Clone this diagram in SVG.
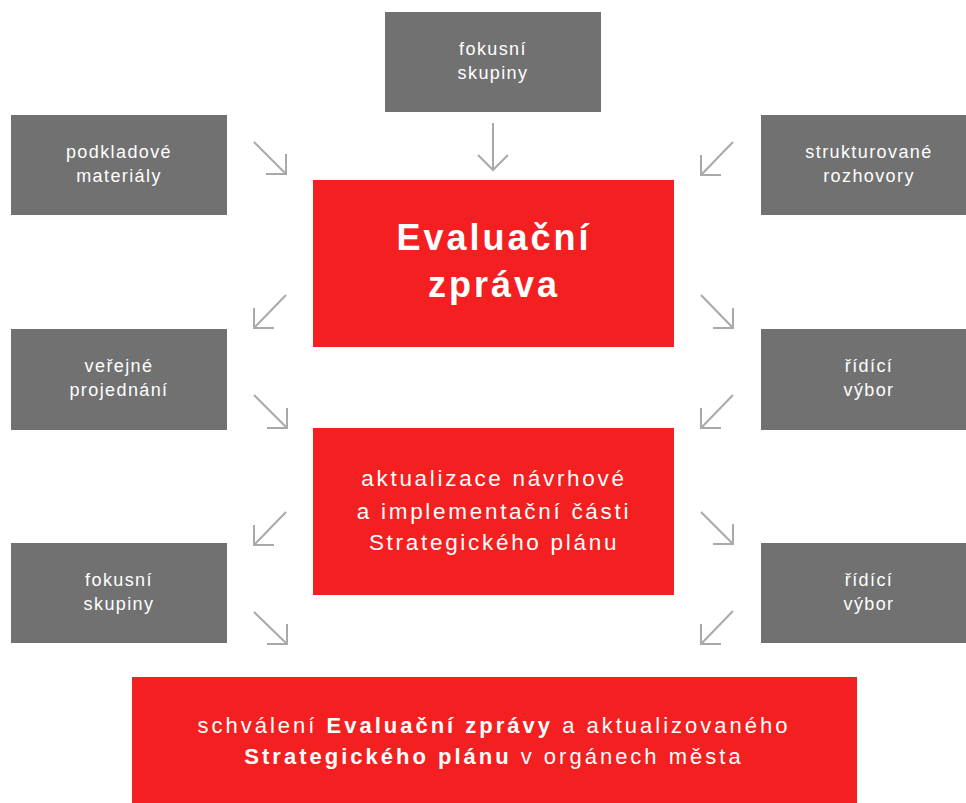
<svg xmlns="http://www.w3.org/2000/svg" width="966" height="803" viewBox="0 0 966 803">
<style>
.g{fill:#717171}
.r{fill:#f31f20}
.t{font-family:"Liberation Sans",Arial,sans-serif;fill:#fff;text-anchor:middle}
.gt{font-size:18px;letter-spacing:1.4px}
.h1{font-size:36px;font-weight:bold;letter-spacing:3px}
.h2{font-size:22.5px;letter-spacing:2.7px}
.h3{font-size:22px;letter-spacing:3px}
.b{font-weight:bold}
.c path{fill:none;stroke:#a9a9a9;stroke-width:2}
</style>
<rect width="966" height="803" fill="#fff"/>
<g id="n-fokusni-top"><rect class="g" x="385" y="12" width="216" height="100"/><text class="t gt" x="493" y="55">fokusní</text><text class="t gt" x="493" y="79">skupiny</text></g>
<g id="n-podkladove"><rect class="g" x="11" y="115" width="216" height="100"/><text class="t gt" x="119" y="158">podkladové</text><text class="t gt" x="119" y="182">materiály</text></g>
<g id="n-strukturovane"><rect class="g" x="761" y="115" width="205" height="100"/><text class="t gt" x="869" y="158">strukturované</text><text class="t gt" x="869" y="182">rozhovory</text></g>
<g id="n-evaluacni"><rect class="r" x="313" y="180" width="361" height="167"/><text class="t h1" x="494" y="250">Evaluační</text><text class="t h1" x="494" y="297">zpráva</text></g>
<g id="n-verejne"><rect class="g" x="11" y="329" width="216" height="101"/><text class="t gt" x="119" y="372">veřejné</text><text class="t gt" x="119" y="396">projednání</text></g>
<g id="n-ridici1"><rect class="g" x="761" y="329" width="205" height="101"/><text class="t gt" x="869" y="372">řídící</text><text class="t gt" x="869" y="396">výbor</text></g>
<g id="n-aktualizace"><rect class="r" x="313" y="428" width="361" height="167"/><text class="t h2" x="494" y="486">aktualizace návrhové</text><text class="t h2" x="494" y="519">a implementační části</text><text class="t h2" x="494" y="550">Strategického plánu</text></g>
<g id="n-fokusni2"><rect class="g" x="11" y="543" width="216" height="100"/><text class="t gt" x="119" y="586">fokusní</text><text class="t gt" x="119" y="610">skupiny</text></g>
<g id="n-ridici2"><rect class="g" x="761" y="543" width="205" height="100"/><text class="t gt" x="869" y="586">řídící</text><text class="t gt" x="869" y="610">výbor</text></g>
<g id="n-schvaleni"><rect class="r" x="132" y="677" width="725" height="126"/><text class="t h3" x="494" y="733">schválení <tspan class="b">Evaluační zprávy</tspan> a aktualizovaného</text><text class="t h3" x="494" y="764"><tspan class="b">Strategického plánu</tspan> v orgánech města</text></g>
<g id="connectors" class="c">
<path d="M254 142L286 174M286 154V174H266"/>
<path d="M493 123V170M478 155L493 170L508 155"/>
<path d="M733 142L701 175M701 155V175H721"/>
<path d="M286 295L254 328M254 308V328H274"/>
<path d="M254 395L287 428M287 408V428H267"/>
<path d="M701 295L733 328M733 308V328H713"/>
<path d="M733 395L701 428M701 408V428H721"/>
<path d="M286 512L254 545M254 525V545H274"/>
<path d="M254 612L287 644M287 624V644H267"/>
<path d="M701 512L733 544M733 524V544H713"/>
<path d="M733 611L701 644M701 624V644H721"/>
</g>
</svg>
